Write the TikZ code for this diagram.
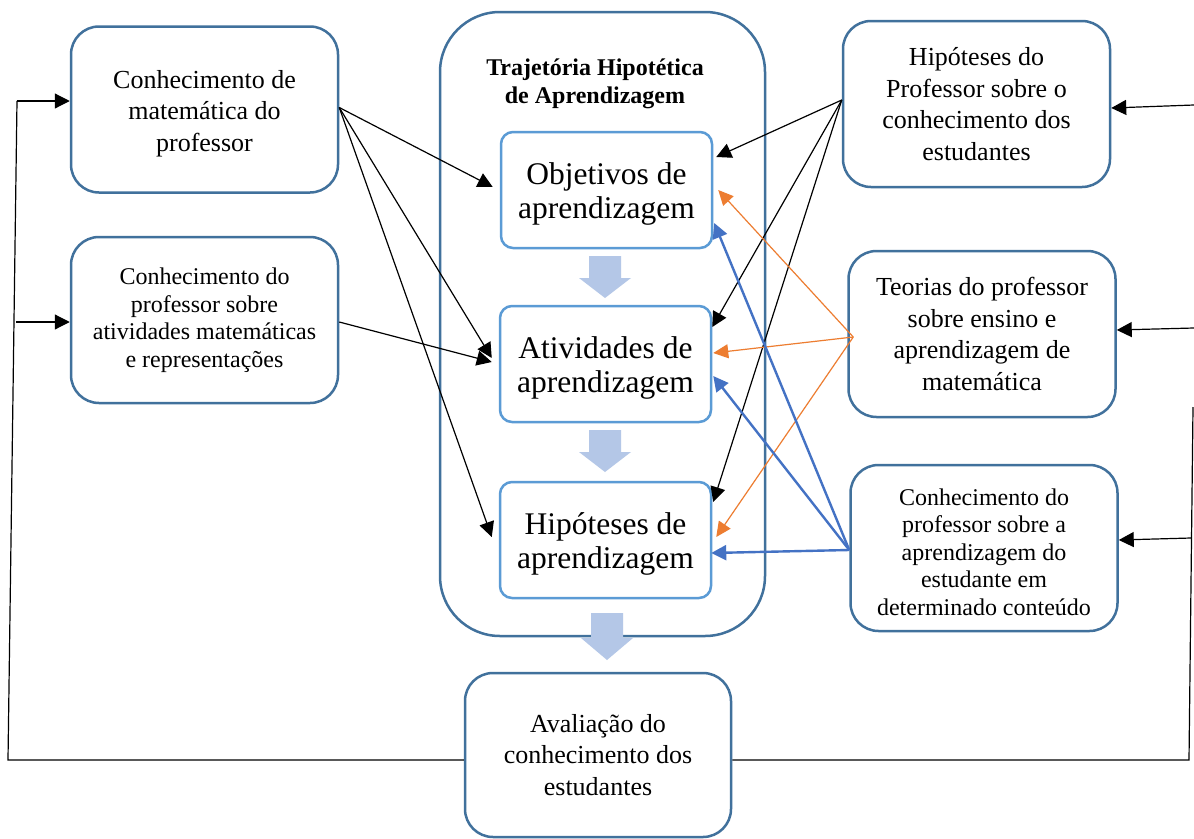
\documentclass[tikz,border=0pt]{standalone}
\usepackage{fontspec}
\setmainfont{Liberation Serif}
\usetikzlibrary{arrows.meta}
\definecolor{outerb}{HTML}{41719C}
\definecolor{innerb}{HTML}{5B9BD5}
\definecolor{bfill}{HTML}{B4C7E7}
\definecolor{orng}{HTML}{ED7D31}
\definecolor{blu}{HTML}{4472C4}
\newcommand\bdown[4]{%
  \fill[bfill] (#1-16,#2) -- (#1+16,#2) -- (#1+16,#2+#3) -- (#1+26,#2+#3) -- (#1,#2+#4) -- (#1-26,#2+#3) -- (#1-16,#2+#3) -- cycle;}
\tikzset{
  obox/.style={draw=outerb, line width=2.5pt, rounded corners=28pt, inner sep=0pt, align=center,
    minimum width=267pt, minimum height=166pt, fill=white},
  ibox/.style={draw=innerb, line width=2.5pt, rounded corners=12pt, inner sep=0pt, align=center,
    minimum width=211pt, minimum height=116pt, fill=white},
  ilbl/.style={font=\fontsize{31.5}{34}\selectfont, align=center, yshift=-4pt},
  bigtxt/.style={font=\fontsize{26}{31.5}\selectfont},
  smtxt/.style={font=\fontsize{24}{27.5}\selectfont},
  blbl/.style={font=\fontsize{26}{31.5}\selectfont, align=center, yshift=-4pt},
  slbl/.style={font=\fontsize{24}{27.5}\selectfont, align=center, yshift=-4pt},
  blk/.style={black, line width=1.2pt, -{Triangle[length=15pt,width=15pt]}},
  org/.style={orng, line width=1.2pt, -{Triangle[length=15pt,width=14pt]}},
  bluarr/.style={blu, line width=2.4pt, -{Triangle[length=15pt,width=15pt]}},
  fb/.style={black, line width=1.2pt},
}
\begin{document}
\begin{tikzpicture}[x=1pt,y=-1pt]
\useasboundingbox (0,0) rectangle (1194,838);
\fill[white] (0,0) rectangle (1194,838);

% container
\node[draw=outerb, line width=2.5pt, rounded corners=60pt, minimum width=325pt, minimum height=624pt, inner sep=0pt] (C) at (602.5,324) {};
\node[font=\bfseries\fontsize{24}{28}\selectfont, align=center] (T) at (595,84) {Trajetória Hipotética\\de Aprendizagem};

% inner boxes
\node[ibox, label={[ilbl]center:Objetivos de\\aprendizagem}] (O) at (606.5,190) {};
\node[ibox, label={[ilbl]center:Atividades de\\aprendizagem}] (At) at (605.5,364) {};
\node[ibox, label={[ilbl]center:Hipóteses de\\aprendizagem}] (H) at (605.5,540) {};

% block arrows
\bdown{605}{256}{22}{42}
\bdown{605}{430}{22}{42}
\bdown{607}{613}{25}{47}

% left boxes
\node[obox, label={[blbl]center:Conhecimento de\\matemática do\\professor}] (A) at (204.5,109.5) {};
\node[obox, smtxt] (B) at (204.5,320) {Conhecimento do\\professor sobre\\atividades matemáticas\\e representações};

% right boxes
\node[obox, bigtxt] (R1) at (976.5,104) {Hipóteses do\\Professor sobre o\\conhecimento dos\\estudantes};
\node[obox, bigtxt] (R2) at (982,334) {Teorias do professor\\sobre ensino e\\aprendizagem de\\matemática};
\node[obox, label={[slbl]center:Conhecimento do\\professor sobre a\\aprendizagem do\\estudante em\\determinado conteúdo}] (R3) at (984,548) {};

% bottom box
\node[obox, bigtxt, minimum width=266pt, minimum height=164pt] (Av) at (598,755) {Avaliação do\\conhecimento dos\\estudantes};

% feedback loop
\coordinate (L1) at (8,760);
\coordinate (L2) at (17,101);
\coordinate (Lb) at (16,322);
\coordinate (Rb) at (1189,760);
\coordinate (Rt) at (1193,407);
\coordinate (r1s) at (1194,105);
\coordinate (r2s) at (1194,328);
\coordinate (r3s) at (1191,538);
\draw[fb] ([yshift=-5pt]Av.west) -- (L1) -- (L2);
\draw[blk] (L2) -- (L2 -| A.west);
\draw[blk] (Lb) -- (Lb -| B.west);
\draw[fb] ([yshift=-5pt]Av.east) -- (Rb) -- (Rt);
\draw[blk] (r1s) -- ([yshift=-4pt]R1.east);
\draw[blk] (r2s) -- ([yshift=4pt]R2.east);
\draw[blk] (r3s) -- ([yshift=8pt]R3.east);

% from left boxes
\coordinate (a0) at ([yshift=2pt]A.east);
\draw[blk] (a0) -- ([xshift=-7pt,yshift=3pt]O.west);
\draw[blk] (a0) -- ([xshift=-7pt,yshift=6pt]At.west);
\draw[blk] (a0) -- ([xshift=-7pt,yshift=3pt]H.west);
\draw[blk] ([yshift=-2pt]B.east) -- ([xshift=-7pt,yshift=2pt]At.west);

% from R1
\coordinate (r1) at ([yshift=4pt]R1.west);
\draw[blk] (r1) -- ([xshift=3pt,yshift=33pt]O.east);
\draw[blk] (r1) -- ([yshift=37pt]At.east);
\draw[blk] (r1) -- ([xshift=1pt,yshift=38pt]H.east);

% from R2 (orange)
\coordinate (r2) at ([xshift=6pt,yshift=-3pt]R2.west);
\draw[org] (r2) -- ([xshift=5pt]O.east);
\draw[org] (r2) -- ([xshift=1pt,yshift=11pt]At.east);
\draw[org] (r2) -- ([xshift=4pt,yshift=3pt]H.east);

% from R3 (blue)
\coordinate (r3) at ([yshift=-2pt]R3.west);
\draw[bluarr] (r3) -- ([xshift=1pt,yshift=-33pt]O.east);
\draw[bluarr] (r3) -- ([xshift=1pt,yshift=-12pt]At.east);
\draw[bluarr] (r3) -- ([xshift=-1pt,yshift=-13pt]H.east);
\end{tikzpicture}
\end{document}
